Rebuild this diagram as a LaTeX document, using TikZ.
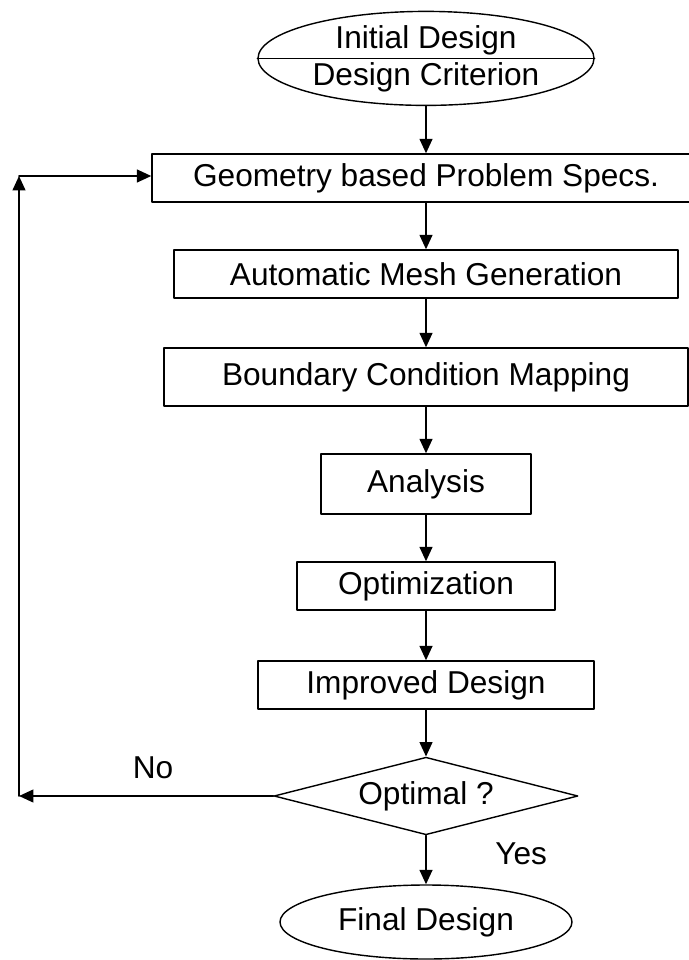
\documentclass[tikz,border=0pt]{standalone}
\usepackage{fontspec}
\setmainfont{Liberation Sans}
\usetikzlibrary{arrows.meta,shapes.geometric}

\begin{document}
\begin{tikzpicture}[
    >={Triangle[length=0.36cm,width=0.32cm]},
    line cap=round,
    line join=round,
    font=\fontsize{22.5}{26.3}\selectfont,
    stage/.style={draw,line width=1pt,minimum height=1.2cm,inner sep=2pt},
    terminal/.style={draw,ellipse,line width=1pt,inner sep=0pt},
    flow/.style={->,line width=1.3pt}
]

% Page frame
\useasboundingbox (0,0) rectangle (17.2,-24);

% Start of the process
\node[terminal,minimum width=8.4cm,minimum height=2.325cm,align=center]
    (init) at (10.65,-1.46) {Initial Design\\Design Criterion};
\draw[line width=1pt] (init.west) -- (init.east);

% Process stages
\node[stage,minimum width=13.7cm] (geom) at (10.65,-4.45)
    {Geometry based Problem Specs.};
\node[stage,minimum width=12.6cm] (mesh) at (10.65,-6.85)
    {Automatic Mesh Generation};
\node[stage,minimum width=13.1cm,minimum height=1.45cm] (bcmap) at (10.65,-9.425)
    {Boundary Condition Mapping};
\node[stage,minimum width=5.25cm,minimum height=1.5cm] (anal) at (10.65,-12.1)
    {Analysis};
\node[stage,minimum width=6.45cm] (optim) at (10.65,-14.65)
    {Optimization};
\node[stage,minimum width=8.4cm] (improv) at (10.65,-17.125)
    {Improved Design};

% Decision
\node[draw,diamond,line width=1pt,aspect=3.9,inner sep=0pt,
      minimum width=7.6cm,minimum height=1.94cm]
    (optq) at (10.65,-19.9) {Optimal ?};

% End of the process
\node[terminal,minimum width=7.3cm,minimum height=1.85cm]
    (final) at (10.65,-23.05) {Final Design};

% Main flow
\draw[flow] (init) -- (geom);
\draw[flow] (geom) -- (mesh);
\draw[flow] (mesh) -- (bcmap);
\draw[flow] (bcmap) -- (anal);
\draw[flow] (anal) -- (optim);
\draw[flow] (optim) -- (improv);
\draw[flow] (improv) -- (optq);
\draw[flow] (optq) -- (final);

% Feedback loop
\coordinate (loopB) at (0.475,-19.9);
\coordinate (loopT) at (0.475,-4.4);
\draw[flow] (optq.west) -- (loopB);
\draw[flow] (loopB) -- (loopT);
\draw[flow] (loopT) -- (loopT -| geom.west);

% Branch labels
\node (nolbl) at (3.825,-19.2) {No};
\node (yeslbl) at (13.03,-21.35) {Yes};

\end{tikzpicture}
\end{document}
